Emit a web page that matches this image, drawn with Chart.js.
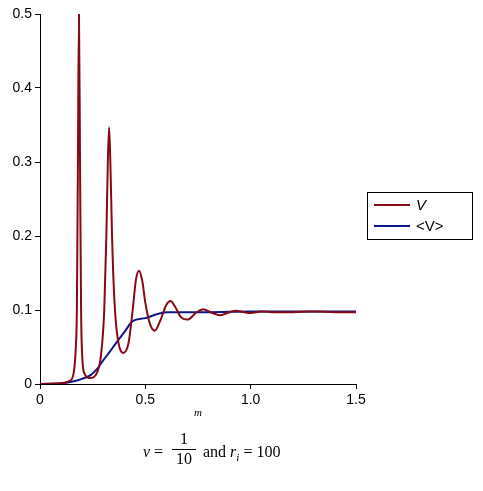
<!DOCTYPE html><html><head><meta charset="utf-8">
<script src="https://cdn.jsdelivr.net/npm/chart.js@4"></script>
<style>body{margin:0;width:483px;height:491px;position:relative;background:#fff;font-family:"Liberation Sans",sans-serif}
#c{position:absolute;left:0;top:0}
.leg{position:absolute;left:367px;top:192px;width:104px;height:46px;border:1px solid #000;font-size:15px}
.row{position:absolute;left:6px;display:flex;align-items:center}
.ln{width:36px;height:2px;margin-right:6px}
.cap{position:absolute;font-family:"Liberation Serif",serif;font-size:16px}
</style></head><body>
<canvas id="c" width="483" height="491"></canvas>
<div class="leg"><div class="row" style="top:3px"><div class="ln" style="background:#850a16"></div><i>V</i></div>
<div class="row" style="top:24px"><div class="ln" style="background:#0b178a"></div>&lt;V&gt;</div></div>
<div class="cap" style="left:194px;top:406px;font-size:11px"><i>m</i></div>
<div class="cap" style="left:143px;top:443px"><i>v</i> =</div>
<div class="cap" style="left:172px;top:430px;text-align:center;width:24px">1<div style="border-top:1px solid #000;margin-top:1px;padding-top:0">10</div></div>
<div class="cap" style="left:203px;top:443px">and <i>r</i><sub style="font-size:11px"><i>i</i></sub> = 100</div>
<script>
const mV=[0,0.1,0.14,0.16,0.17,0.175,0.18,0.185,0.19,0.195,0.2,0.21,0.237,0.27,0.29,0.305,0.315,0.322,0.328,0.334,0.342,0.352,0.365,0.395,0.42,0.44,0.455,0.47,0.485,0.5,0.52,0.545,0.57,0.6,0.62,0.64,0.67,0.7,0.74,0.775,0.81,0.855,0.9,0.93,0.97,1.0,1.05,1.1,1.2,1.3,1.4,1.5];
const V=[0,0.001,0.004,0.015,0.05,0.1,0.3,0.5,0.3,0.1,0.04,0.015,0.008,0.015,0.04,0.1,0.2,0.3,0.347,0.3,0.2,0.12,0.07,0.042,0.055,0.1,0.14,0.153,0.14,0.11,0.083,0.072,0.085,0.107,0.112,0.105,0.09,0.087,0.096,0.101,0.097,0.093,0.097,0.099,0.097,0.096,0.098,0.097,0.097,0.098,0.097,0.097];
const mA=[0,0.1,0.15,0.2,0.24,0.27,0.3,0.33,0.36,0.4,0.44,0.5,0.55,0.6,0.8,1.0,1.5];
const A=[0,0.001,0.003,0.007,0.012,0.02,0.032,0.043,0.055,0.07,0.085,0.089,0.094,0.097,0.097,0.098,0.098];
const xTicks=[0,0.5,1,1.5], yTicks=[0,0.1,0.2,0.3,0.4,0.5];
const pts=(xs,ys)=>xs.map((x,i)=>({x,y:ys[i]}));
new Chart(document.getElementById('c'),{type:'line',data:{datasets:[
{data:pts(mV,V),borderColor:'#850a16',borderWidth:2,pointRadius:0,cubicInterpolationMode:'monotone'},
{data:pts(mA,A),borderColor:'#0b178a',borderWidth:2,pointRadius:0,cubicInterpolationMode:'monotone'}]},
options:{responsive:false,animation:false,layout:{padding:{top:14,right:127,left:0,bottom:0}},
plugins:{legend:{display:false},tooltip:{enabled:false}},
scales:{x:{type:'linear',min:0,max:1.5,afterFit:s=>{s.height=107},afterBuildTicks:s=>{s.ticks=xTicks.map(v=>({value:v}))},
grid:{drawOnChartArea:false,color:'#000',tickLength:5},border:{color:'#000'},ticks:{color:'#000',font:{family:'Liberation Sans',size:14},maxRotation:0}},
y:{min:0,max:0.5,afterFit:s=>{s.width=40},afterBuildTicks:s=>{s.ticks=yTicks.map(v=>({value:v}))},
grid:{drawOnChartArea:false,color:'#000',tickLength:5},border:{color:'#000'},ticks:{color:'#000',font:{family:'Liberation Sans',size:14}}}}}});
</script></body></html>
